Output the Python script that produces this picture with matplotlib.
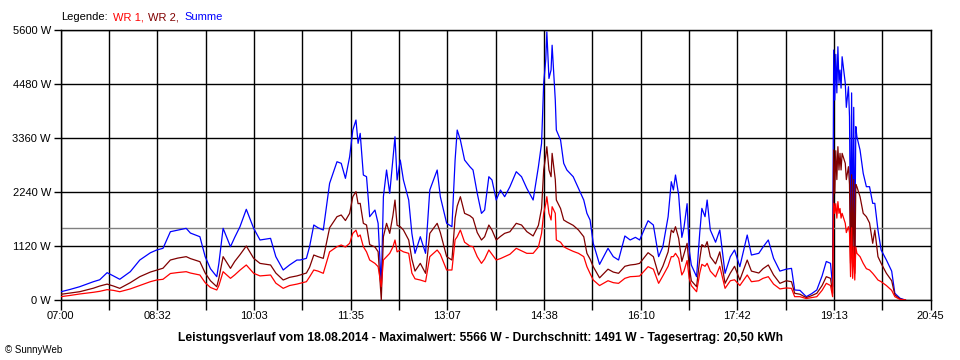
import matplotlib
matplotlib.use("Agg")
import matplotlib.pyplot as plt
from matplotlib.ticker import FixedLocator, FixedFormatter

# ---------------- data ----------------
times = ["07:00","07:09","07:18","07:31","07:37","07:44","07:50","07:56","08:06","08:15",
         "08:25","08:31","08:37","08:44","08:51","08:59","09:03","09:12","09:17","09:22",
         "09:28","09:30","09:34","09:41","09:45","09:50","09:56","10:03","10:09","10:19",
         "10:24","10:31","10:37","10:44","10:47","10:53","10:56","11:00","11:04","11:09",
         "11:15","11:22","11:26","11:30","11:34","11:37","11:40","11:42","11:44","11:47",
         "11:50","11:53","11:58","12:01","12:04","12:06","12:09","12:12","12:15","12:17",
         "12:19","12:22","12:25","12:30","12:33","12:36","12:41","12:46","12:50","12:57",
         "13:00","13:06","13:11","13:14","13:16","13:19","13:23","13:28","13:31","13:35",
         "13:39","13:42","13:46","13:49","13:53","13:57","14:01","14:06","14:12","14:17",
         "14:22","14:28","14:33","14:36","14:38","14:40","14:41","14:43","14:45","14:46",
         "14:49","14:50","14:54","14:57","15:00","15:06","15:11","15:16","15:19","15:22",
         "15:25","15:31","15:39","15:44","15:49","15:55","16:00","16:05","16:09","16:17",
         "16:22","16:27","16:31","16:36","16:39","16:41","16:43","16:46","16:49","16:51",
         "16:54","16:56","16:58","17:03","17:06","17:08","17:11","17:13","17:16","17:21",
         "17:25","17:30","17:35","17:39","17:44","17:51","17:55","18:02","18:06","18:11",
         "18:16","18:22","18:28","18:33","18:36","18:41","18:47","18:52","18:57","19:02",
         "19:06","19:10","19:12","19:13","19:14","19:15","19:16","19:17","19:18","19:19",
         "19:20","19:21","19:24","19:25","19:27","19:28","19:29","19:30","19:31","19:32",
         "19:33","19:34","19:35","19:38","19:41","19:44","19:47","19:50","19:52","19:55",
         "19:58","20:03","20:08","20:11","20:16","20:21"]

summe = [170, 220, 276, 380, 420, 567, 500, 430, 588, 830,
         980, 1038, 1073, 1418, 1450, 1488, 1390, 1314, 900, 650,
         484, 761, 1488, 1107, 1300, 1522, 1883, 1488, 1246, 1280,
         900, 623, 727, 830, 830, 865, 1107, 1557, 1500, 1453,
         2423, 2871, 2838, 2526, 2975, 3529, 3737, 3253, 3460, 2595,
         2560, 1730, 1868, 1592, 276, 2145, 2699, 2215, 2906, 3390,
         2491, 2906, 2491, 2076, 1384, 969, 1314, 969, 2284, 2699,
         2145, 1592, 1522, 2906, 3529, 3322, 2906, 2768, 2699, 2215,
         1799, 1868, 2560, 2491, 2076, 2284, 2145, 2353, 2664, 2560,
         2318, 2076, 2768, 3253, 4500, 5000, 5566, 4600, 4776, 5290,
         4152, 3529, 3322, 2838, 2699, 2560, 2318, 2076, 1800, 1661,
         1177, 740, 1073, 900, 830, 1329, 1246, 1301, 1246, 1646,
         1557, 900, 1107, 1730, 2456, 2284, 2595, 2180, 1300, 1500,
         2000, 1038, 727, 484, 1400, 1903, 1730, 2076, 1453, 1200,
         1453, 554, 900, 1038, 692, 1349, 934, 969, 1100, 1246,
         865, 600, 640, 657, 208, 200, 69, 130, 208, 500,
         800, 761, 276, 5190, 4152, 5100, 4300, 5258, 4500, 4775,
         4400, 5051, 4499, 4000, 4429, 3806, 1177, 4300, 1100, 4000,
         1038, 3600, 3390, 3114, 2630, 2353, 2353, 2007, 2007, 1453,
         1038, 830, 600, 139, 35, 0]

wr2 = [118, 145, 172, 245, 290, 330, 290, 242, 360, 484,
       580, 620, 660, 830, 870, 900, 860, 796, 560, 400,
       276, 450, 900, 657, 800, 940, 1121, 865, 760, 727,
       560, 415, 470, 500, 519, 560, 680, 934, 900, 865,
       1500, 1730, 1765, 1650, 1799, 2145, 2249, 2000, 2007, 1592,
       1557, 1150, 1100, 1003, 0, 1314, 1592, 1384, 1750, 2076,
       1550, 1522, 1453, 1246, 850, 600, 761, 554, 1384, 1592,
       1400, 900, 830, 1700, 1950, 2145, 1799, 1750, 1696, 1400,
       1246, 1314, 1557, 1450, 1246, 1320, 1384, 1418, 1592, 1557,
       1420, 1330, 1550, 1900, 2700, 3000, 3183, 2700, 2560, 3045,
       2500, 2076, 1900, 1661, 1620, 1550, 1453, 1314, 969, 850,
       692, 460, 640, 580, 554, 700, 727, 740, 761, 982,
       900, 519, 700, 1000, 1453, 1400, 1522, 1280, 800, 950,
       1177, 700, 400, 276, 850, 1150, 1100, 1211, 900, 750,
       1000, 346, 560, 700, 415, 830, 600, 560, 650, 727,
       520, 346, 400, 380, 139, 120, 50, 90, 139, 300,
       484, 450, 139, 3114, 2215, 3100, 2500, 3183, 2700, 3045,
       2700, 3045, 2838, 2500, 2768, 2400, 761, 2600, 700, 2500,
       554, 2400, 2353, 2145, 1800, 1730, 1600, 1177, 1453, 900,
       761, 554, 400, 104, 20, 0]

wr1 = [69, 95, 125, 160, 180, 215, 200, 172, 230, 300,
       380, 415, 430, 550, 570, 588, 560, 519, 360, 260,
       208, 300, 588, 450, 520, 620, 727, 554, 500, 519,
       350, 242, 300, 330, 346, 380, 480, 623, 600, 554,
       1000, 1107, 1142, 1100, 1177, 1384, 1450, 1314, 1350, 1107,
       1000, 830, 760, 692, 276, 830, 900, 969, 1100, 1246,
       1000, 1038, 1000, 969, 560, 440, 415, 380, 900, 1038,
       950, 623, 623, 1250, 1314, 1453, 1200, 1120, 1107, 900,
       761, 850, 1038, 950, 830, 860, 900, 950, 1073, 1020,
       969, 969, 1100, 1384, 1800, 2000, 2145, 1800, 1661, 1937,
       1800, 1246, 1200, 1107, 1070, 1010, 969, 900, 692, 550,
       415, 300, 400, 360, 346, 450, 484, 490, 498, 692,
       640, 346, 500, 700, 900, 900, 969, 865, 520, 600,
       820, 450, 300, 172, 560, 740, 700, 761, 600, 480,
       700, 242, 400, 420, 300, 519, 380, 400, 450, 484,
       330, 230, 250, 242, 69, 69, 30, 50, 69, 200,
       346, 300, 69, 2007, 1800, 2000, 1700, 2042, 1800, 1900,
       1700, 1799, 1592, 1400, 1522, 1400, 484, 1500, 450, 1107,
       415, 1100, 969, 900, 761, 650, 623, 554, 500, 415,
       380, 300, 200, 69, 10, 0]

x_labels = ["07:00", "08:32", "10:03", "11:35", "13:07", "14:38", "16:10", "17:42", "19:13", "20:45"]
y_ticks = [0, 1120, 2240, 3360, 4480, 5600]
average = 1491
title_text = ("Leistungsverlauf vom 18.08.2014 - Maximalwert: 5566 W - "
              "Durchschnitt: 1491 W - Tagesertrag: 20,50 kWh")

# ---------------- plot ----------------
def to_min(s):
    h, m = s.split(":")
    return (int(h) - 7) * 60 + int(m)

xm = [to_min(t) for t in times]
span = to_min("20:45")

plt.rcParams['font.family'] = ['Liberation Sans', 'DejaVu Sans']

fig = plt.figure(figsize=(9.6, 3.6), dpi=100)
ax = fig.add_axes([60.7 / 960, 60 / 360, 870 / 960, 269.7 / 360])

ax.set_xlim(0, span)
ax.set_ylim(0, 5600)

step = span / 18.0
major = [i * step for i in range(19)]
ax.xaxis.set_major_locator(FixedLocator(major))
labels = [x_labels[i // 2] if i % 2 == 0 else "" for i in range(19)]
ax.xaxis.set_major_formatter(FixedFormatter(labels))
ax.yaxis.set_major_locator(FixedLocator(y_ticks))
ax.set_yticklabels([f"{v} W" for v in y_ticks])
ax.grid(True, color="black", linewidth=1.0)
ax.set_axisbelow(True)

for sp in ax.spines.values():
    sp.set_linewidth(1.0)
    sp.set_color("black")

ax.tick_params(axis="x", direction="out", length=7, width=1, pad=1, labelsize=8)
ax.tick_params(axis="y", direction="out", length=5, width=1, pad=2, labelsize=8)

ax.axhline(average, color="#808080", linewidth=1.0, zorder=2)

ax.plot(xm, summe, color="#0000FF", linewidth=0.9, zorder=3)
ax.plot(xm, wr2, color="#800000", linewidth=0.9, zorder=4)
ax.plot(xm, wr1, color="#FF0000", linewidth=0.9, zorder=5)

# legend text pieces
fig.canvas.draw()
renderer = fig.canvas.get_renderer()
x0 = 61 / 960
y0 = 1 - 17 / 360
pieces = [("Legende:", "black"), ("WR 1,", "#FF0000"), ("WR 2,", "#800000"), ("Summe", "#0000FF")]
for txt, col in pieces:
    t = fig.text(x0, y0, txt, color=col, fontsize=8, ha="left", va="center")
    bb = t.get_window_extent(renderer=renderer)
    x0 += (bb.width + 5) / 960

fig.text(480 / 960, 1 - 338 / 360, title_text, fontsize=8.7, fontweight="bold",
         ha="center", va="center")
fig.text(5 / 960, 1 - 350 / 360, "\u00a9 SunnyWeb", fontsize=7, ha="left", va="center")

fig.savefig("out.png", dpi=100, facecolor="white")
